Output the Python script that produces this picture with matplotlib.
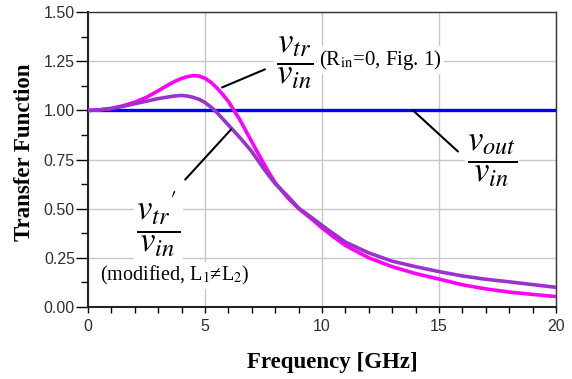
"""Transfer function vs frequency (vtr, vtr', vout over vin)."""
import matplotlib
matplotlib.use("Agg")
import matplotlib.pyplot as plt
from matplotlib.ticker import MultipleLocator

# ---- data ----
freq_ghz = [0, 0.5, 1.0, 1.5, 2.0, 2.5, 3.0, 3.5, 3.75, 4.0, 4.25, 4.5, 4.75,
            5.0, 5.25, 5.5, 5.75, 6.0, 6.25, 6.5, 6.75, 7.0, 7.25, 7.5, 7.75,
            8.0, 8.5, 9.0, 9.5, 10, 10.5, 11, 12, 13, 14, 15, 16, 17, 18, 19,
            20]
vtr = [1.000, 1.003, 1.010, 1.024, 1.042, 1.067, 1.100, 1.135, 1.150, 1.163,
       1.172, 1.177, 1.175, 1.163, 1.143, 1.115, 1.082, 1.045, 0.998, 0.950,
       0.895, 0.840, 0.785, 0.732, 0.680, 0.632, 0.560, 0.500, 0.453, 0.402,
       0.356, 0.313, 0.250, 0.205, 0.170, 0.142, 0.113, 0.092, 0.076, 0.064,
       0.053]
vtr_mod = [1.000, 1.003, 1.010, 1.021, 1.034, 1.047, 1.060, 1.070, 1.074,
           1.076, 1.073, 1.066, 1.056, 1.040, 1.017, 0.990, 0.958, 0.925,
           0.893, 0.860, 0.826, 0.790, 0.748, 0.705, 0.665, 0.627, 0.568,
           0.503, 0.460, 0.415, 0.372, 0.330, 0.275, 0.233, 0.205, 0.180,
           0.158, 0.141, 0.128, 0.114, 0.100]
vout = [1.0] * len(freq_ghz)

plt.rcParams["mathtext.fontset"] = "stix"
SERIF = ["Liberation Serif", "DejaVu Serif"]

fig = plt.figure(figsize=(5.72, 3.79), dpi=100)
ax = fig.add_axes([0.154, 0.19, 0.818, 0.778])

ax.plot(freq_ghz, vout, color="#0000ff", lw=2.4, zorder=3)
ax.plot(freq_ghz, vtr, color="#ff00ff", lw=2.6, zorder=4)
ax.plot(freq_ghz, vtr_mod, color="#9933cc", lw=2.6, zorder=5)

ax.set_xlim(0, 20)
ax.set_ylim(0, 1.5)
ax.xaxis.set_major_locator(MultipleLocator(5))
ax.xaxis.set_minor_locator(MultipleLocator(1))
ax.yaxis.set_major_locator(MultipleLocator(0.25))
ax.yaxis.set_minor_locator(MultipleLocator(0.125))
ax.yaxis.set_major_formatter(lambda v, p: f"{v:.2f}")
ax.grid(True, which="major", color="#c8c8c8", lw=1.0, zorder=0)
ax.set_axisbelow(True)

ax.tick_params(axis="y", which="major", direction="out", length=8.5,
               width=1.0, labelsize=11.5, labelcolor="#303030", pad=1)
ax.tick_params(axis="y", which="minor", direction="out", length=5, width=1.0)
ax.tick_params(axis="x", which="both", direction="out", length=4.5,
               width=1.0, labelsize=11.5, labelcolor="#303030", pad=4)
for lab in ax.get_xticklabels() + ax.get_yticklabels():
    lab.set_family("Liberation Sans")

for side in ("left", "bottom"):
    ax.spines[side].set_linewidth(1.5)
    ax.spines[side].set_color("#222222")
for side in ("top", "right"):
    ax.spines[side].set_linewidth(1.0)
    ax.spines[side].set_color("#333333")

ax.set_xlabel("Frequency [GHz]", family=SERIF, fontsize=16.5, weight="bold",
              labelpad=13)
ax.set_ylabel("Transfer Function", family=SERIF, fontsize=16.5,
              weight="bold", labelpad=6)
ax.xaxis.label.set_x(0.523)   # label sits a bit right of centre
ax.yaxis.label.set_y(0.525)

# ---- annotations ----
box = dict(facecolor="white", edgecolor="none", pad=1.5)
lead = dict(arrowstyle="-", color="black", lw=1.5, shrinkA=0, shrinkB=0)

ax.annotate("", xy=(5.73, 1.117), xytext=(7.56, 1.209), arrowprops=lead,
            zorder=6)
ax.annotate("", xy=(6.11, 0.903), xytext=(4.15, 0.648), arrowprops=lead,
            zorder=6)
ax.annotate("", xy=(13.89, 1.0), xytext=(15.81, 0.791), arrowprops=lead,
            zorder=6)

ax.text(8.85, 1.243, r"$\dfrac{v_{tr}}{v_{in}}$", fontsize=25, ha="center",
        va="center", bbox=box, zorder=7)
ax.text(9.88, 1.255, r"(R$_{\rm in}$=0, Fig. 1)", family=SERIF,
        fontsize=15, ha="left", va="center", bbox=box, zorder=7)
ax.text(17.26, 0.745, r"$\dfrac{v_{out}}{v_{in}}$", fontsize=25, ha="center",
        va="center", bbox=box, zorder=7)
ax.text(3.0, 0.42, r"$\dfrac{{v_{tr}}^{\prime}}{v_{in}}$", fontsize=25,
        ha="center", va="center", bbox=box, zorder=7)
ax.text(3.72, 0.16, "(modified, L$_1$\u2260L$_2$)", family=SERIF,
        fontsize=14.5, ha="center", va="center", bbox=box, zorder=7)

fig.savefig("out.png", dpi=100)
